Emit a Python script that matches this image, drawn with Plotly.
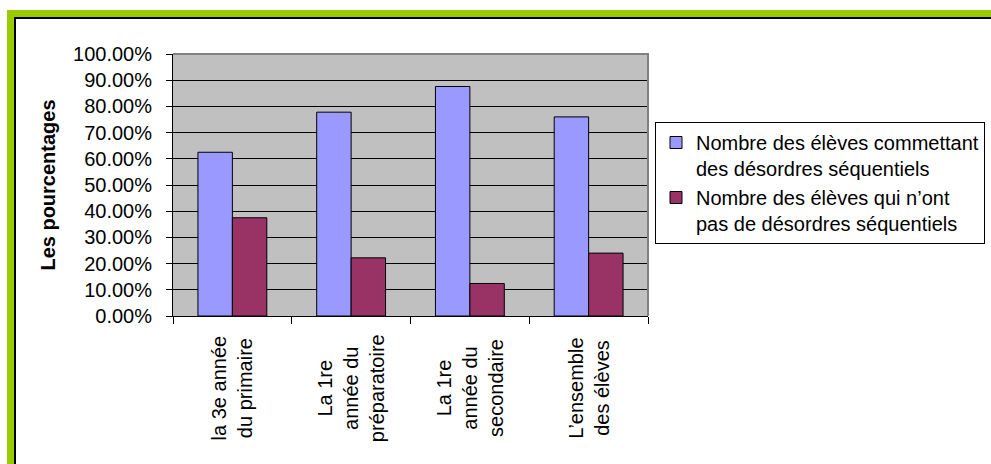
import plotly.graph_objects as go

categories = ["la 3e année<br>du primaire",
              "La 1re<br>année du<br>préparatoire",
              "La 1re<br>année du<br>secondaire",
              "L’ensemble<br>des élèves"]
series_names = ["Nombre des élèves commettant<br>des désordres séquentiels",
                "Nombre des élèves qui n’ont<br>pas de désordres séquentiels"]
with_disorder = [0.625, 0.778, 0.876, 0.76]
without_disorder = [0.375, 0.222, 0.124, 0.24]
colors = ["#9999FF", "#993366"]

W, H = 991, 464
L, R, T, B = 173, 648, 54, 316
FONT = "Liberation Sans, Arial, sans-serif"

def px(x):
    return (x - L) / (R - L)

def py(y):
    return (B - y) / (B - T)

fig = go.Figure()
for name, vals, col in zip(series_names, [with_disorder, without_disorder], colors):
    fig.add_trace(go.Bar(x=categories, y=vals, name=name,
                         marker=dict(color=col, line=dict(color="black", width=1))))

shapes = [
    dict(type="path", xref="paper", yref="paper",
         path="M 0,1 L 1,1 L 1,0", line=dict(color="#808080", width=2), layer="above"),
    dict(type="rect", xref="paper", yref="paper",
         x0=px(10.5), x1=px(1010), y0=py(13.5), y1=py(500),
         line=dict(color="#99CC00", width=7), layer="above"),
    dict(type="rect", xref="paper", yref="paper",
         x0=px(15), x1=px(1010), y0=py(18), y1=py(500),
         line=dict(color="#000000", width=2), layer="above"),
]

annotations = []
for c in categories:
    annotations.append(dict(x=c, xref="x", y=py(388), yref="paper",
                            text=c, textangle=-90, showarrow=False,
                            xanchor="center", yanchor="middle", align="center",
                            font=dict(size=20, color="black", family=FONT)))

fig.update_layout(
    width=W, height=H,
    margin=dict(l=L, r=W - R, t=T, b=H - B, autoexpand=False),
    paper_bgcolor="white", plot_bgcolor="#C0C0C0",
    font=dict(family=FONT, size=20, color="black"),
    barmode="group", bargap=0.42, bargroupgap=0,
    showlegend=True,
    legend=dict(x=px(655), y=py(122), xanchor="left", yanchor="top",
                bordercolor="black", borderwidth=1, bgcolor="white",
                font=dict(size=20, color="black", family=FONT),
                valign="top", tracegroupgap=10),
    shapes=shapes, annotations=annotations,
)
fig.update_xaxes(type="category", tickson="boundaries", ticks="outside", ticklen=7,
                 tickcolor="black", showticklabels=False, showline=True,
                 linecolor="black", linewidth=1, showgrid=False, zeroline=False)
fig.update_yaxes(range=[0, 1], dtick=0.1, tickformat=".2%", ticks="outside", ticklen=6,
                 tickcolor="black", showline=True, linecolor="black", linewidth=1,
                 showgrid=True, gridcolor="black", gridwidth=1, zeroline=False,
                 ticklabelstandoff=10,
                 tickfont=dict(size=20, color="black", family=FONT),
                 title=dict(text="<b>Les pourcentages</b>", standoff=12,
                            font=dict(size=20, color="black", family=FONT)))

fig.write_html("out.html")
